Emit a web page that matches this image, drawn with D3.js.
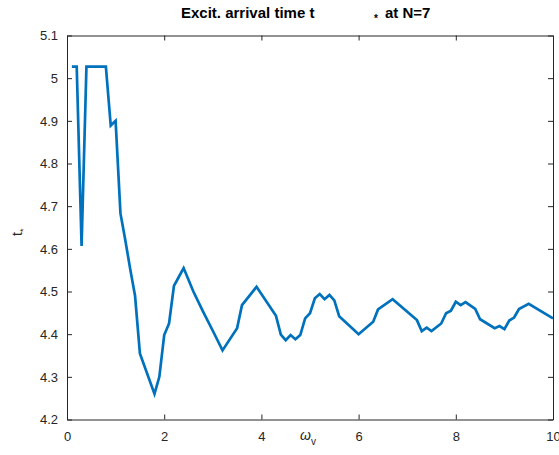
<!DOCTYPE html>
<html>
<head>
<meta charset="utf-8">
<script src="https://cdn.jsdelivr.net/npm/d3@7"></script>
<style>
  html, body { margin: 0; padding: 0; background: #fff; }
  svg { display: block; }
  text { font-family: "Liberation Sans", Arial, Helvetica, sans-serif; }
</style>
</head>
<body>
<script>
// Excitation arrival time t* versus omega_v, N = 7
const omegaV = [0.1, 0.2, 0.3, 0.4, 0.8, 0.9, 1.0, 1.1, 1.2, 1.3, 1.4, 1.5, 1.8, 1.9, 2.0, 2.1, 2.2, 2.3, 2.4,
  2.6, 2.8, 3.0, 3.2, 3.5, 3.6, 3.9, 4.3, 4.4, 4.5, 4.6, 4.7, 4.8, 4.9, 5.0, 5.1, 5.2, 5.3, 5.4, 5.5, 5.6,
  6.0, 6.3, 6.4, 6.7, 7.2, 7.3, 7.4, 7.5, 7.7, 7.8, 7.9, 8.0, 8.1, 8.2, 8.4, 8.5, 8.8, 8.9, 9.0, 9.1, 9.2,
  9.3, 9.5, 10.0];
const tStar = [5.027, 5.027, 4.607, 5.027, 5.027, 4.889, 4.900, 4.683, 4.620, 4.553, 4.490, 4.355, 4.260, 4.300,
  4.398, 4.425, 4.513, 4.534, 4.555, 4.500, 4.453, 4.408, 4.362, 4.414, 4.468, 4.511, 4.443, 4.399, 4.386,
  4.398, 4.388, 4.398, 4.437, 4.449, 4.484, 4.494, 4.482, 4.492, 4.479, 4.442, 4.400, 4.429, 4.458, 4.482,
  4.433, 4.407, 4.415, 4.407, 4.425, 4.449, 4.455, 4.476, 4.468, 4.475, 4.459, 4.435, 4.414, 4.419, 4.412,
  4.432, 4.439, 4.459, 4.471, 4.437];
const xTicks = [0, 2, 4, 6, 8, 10];
const yTicks = [4.2, 4.3, 4.4, 4.5, 4.6, 4.7, 4.8, 4.9, 5.0, 5.1];
const yTickLabels = ["4.2", "4.3", "4.4", "4.5", "4.6", "4.7", "4.8", "4.9", "5", "5.1"];

const W = 559, H = 455;
const plot = { left: 67, right: 553, top: 35.5, bottom: 419.5 };
const axisColor = "#262626";
const lineColor = "#0072BD";
const tickLen = 5;

const svg = d3.select("body").append("svg").attr("width", W).attr("height", H);

const x = d3.scaleLinear().domain([0, 10]).range([plot.left, plot.right]);
const y = d3.scaleLinear().domain([4.2, 5.1]).range([plot.bottom, plot.top]);

// data line
const line = d3.line().x((d, i) => x(omegaV[i])).y(d => y(d));
svg.append("path")
  .datum(tStar)
  .attr("d", line)
  .attr("fill", "none")
  .attr("stroke", lineColor)
  .attr("stroke-width", 2.7)
  .attr("stroke-linejoin", "miter")
  .attr("stroke-linecap", "butt");

// axes with inward ticks on all four sides
function styleAxis(g) {
  g.selectAll("path.domain").attr("stroke", axisColor).attr("stroke-width", 1);
  g.selectAll(".tick line").attr("stroke", axisColor).attr("stroke-width", 1);
  g.selectAll(".tick text").attr("fill", axisColor).attr("font-size", 13)
    .attr("font-family", "'Liberation Sans', Arial, sans-serif");
}

svg.append("g").attr("transform", `translate(0,${plot.bottom})`)
  .call(d3.axisBottom(x).tickValues(xTicks).tickFormat(d3.format("d"))
    .tickSizeInner(-tickLen).tickSizeOuter(0).tickPadding(12))
  .call(styleAxis);

svg.append("g").attr("transform", `translate(0,${plot.top})`)
  .call(d3.axisTop(x).tickValues(xTicks).tickFormat("")
    .tickSizeInner(-tickLen).tickSizeOuter(0))
  .call(styleAxis);

svg.append("g").attr("transform", `translate(${plot.left},0)`)
  .call(d3.axisLeft(y).tickValues(yTicks).tickFormat((d, i) => yTickLabels[i])
    .tickSizeInner(-tickLen).tickSizeOuter(0).tickPadding(9))
  .call(styleAxis);

svg.append("g").attr("transform", `translate(${plot.right},0)`)
  .call(d3.axisRight(y).tickValues(yTicks).tickFormat("")
    .tickSizeInner(-tickLen).tickSizeOuter(0))
  .call(styleAxis);

// title
const title = svg.append("text")
  .attr("y", 18)
  .attr("font-size", 15)
  .attr("font-weight", "bold")
  .attr("fill", "#000");
title.append("tspan").attr("x", 181).text("Excit. arrival time t");
title.append("tspan").attr("x", 374).attr("dy", 4).attr("font-size", 10).text("*");
title.append("tspan").attr("x", 385).attr("dy", -4).text("at N=7");

// x label
const xl = svg.append("text")
  .attr("x", 300).attr("y", 440)
  .attr("font-size", 14).attr("fill", axisColor);
xl.append("tspan").attr("font-style", "italic").text("ω");
xl.append("tspan").attr("dy", 5).attr("font-size", 10).text("v");

// y label
const yl = svg.append("text")
  .attr("transform", "translate(22,236) rotate(-90)")
  .attr("font-size", 14).attr("fill", axisColor);
yl.append("tspan").text("t");
yl.append("tspan").attr("dy", 4).attr("font-size", 9).text("*");
</script>
</body>
</html>
